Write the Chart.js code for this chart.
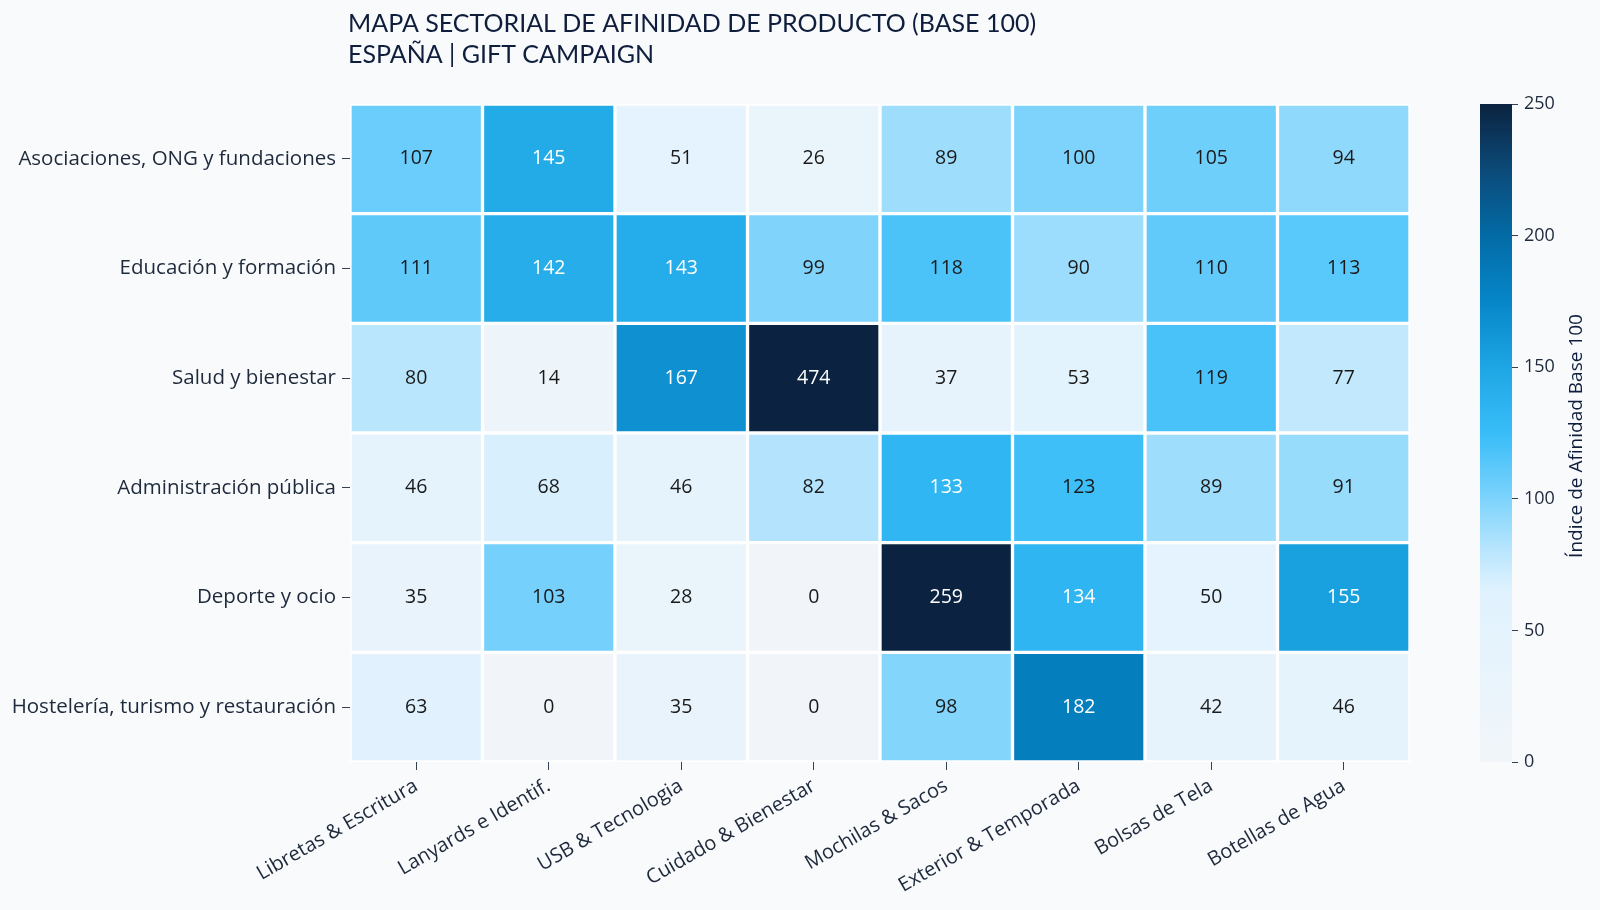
<!DOCTYPE html>
<html><head><meta charset="utf-8">
<script src="https://cdn.jsdelivr.net/npm/chart.js@4.4.1/dist/chart.umd.min.js"></script>
<style>
html,body{margin:0;padding:0;background:#f8fafc;}
#wrap{position:relative;width:1600px;height:910px;background:#f8fafc;}
#main{position:absolute;left:0;top:0;width:1600px;height:910px;}
#cbar{position:absolute;left:1420px;top:0;width:180px;height:910px;}
</style></head><body>
<div id="wrap"><div id="main"><canvas id="c1"></canvas></div><div id="cbar"><canvas id="c2"></canvas></div></div>
<script>
// ---- data ----
const sectors = ["Asociaciones, ONG y fundaciones","Educación y formación","Salud y bienestar","Administración pública","Deporte y ocio","Hostelería, turismo y restauración"];
const products = ["Libretas & Escritura","Lanyards e Identif.","USB & Tecnologia","Cuidado & Bienestar","Mochilas & Sacos","Exterior & Temporada","Bolsas de Tela","Botellas de Agua"];
const asociaciones = [107,145,51,26,89,100,105,94];
const educacion    = [111,142,143,99,118,90,110,113];
const salud        = [80,14,167,474,37,53,119,77];
const administracion = [46,68,46,82,133,123,89,91];
const deporte      = [35,103,28,0,259,134,50,155];
const hosteleria   = [63,0,35,0,98,182,42,46];
const rows = [asociaciones, educacion, salud, administracion, deporte, hosteleria];
const cbarTicks = [0,50,100,150,200,250];
const titleLines = ["MAPA SECTORIAL DE AFINIDAD DE PRODUCTO (BASE 100)","ESPAÑA | GIFT CAMPAIGN"];
const cbarTitle = "Índice de Afinidad Base 100";

// ---- style ----
const FONT = "'Open Sans', Lato, sans-serif";
const TFONT = "Lato, 'Open Sans', sans-serif";
const TXT = "#1e293b";
const VMIN = 0, VMAX = 250;
const cmapPos = [0, 0.26, 0.32, 0.40, 0.50, 0.60, 0.70, 0.80, 0.90, 1.0];
const cmapCol = ["#f1f5f9","#e0f2fe","#bae6fd","#7dd3fc","#38bdf8","#1ea6e4","#0686c8","#036ba6","#0b4a78","#0b2340"];

function hex2rgb(h){return [parseInt(h.slice(1,3),16),parseInt(h.slice(3,5),16),parseInt(h.slice(5,7),16)];}
function cmap(v){
  let t = (Math.min(VMAX,Math.max(VMIN,v))-VMIN)/(VMAX-VMIN);
  for(let i=1;i<cmapPos.length;i++){
    if(t<=cmapPos[i]){
      const f=(t-cmapPos[i-1])/(cmapPos[i]-cmapPos[i-1]);
      const a=hex2rgb(cmapCol[i-1]), b=hex2rgb(cmapCol[i]);
      const c=a.map((x,k)=>Math.round(x+(b[k]-x)*f));
      return `rgb(${c[0]},${c[1]},${c[2]})`;
    }
  }
  return cmapCol[cmapCol.length-1];
}

const nR = rows.length;
const datasets = rows.map((vals,r)=>({
  label: sectors[r],
  data: vals.map(()=>[nR-1-r, nR-r]),
  values: vals,
  backgroundColor: vals.map(cmap),
  borderColor: "#ffffff",
  borderWidth: 2,
  borderSkipped: false,
  barPercentage: 1,
  categoryPercentage: 1,
  grouped: false
}));

const valueLabels = {
  id:'valueLabels',
  afterDatasetsDraw(chart){
    const ctx = chart.ctx;
    ctx.save();
    ctx.font = `19.5px ${FONT}`;
    ctx.textAlign='center'; ctx.textBaseline='middle';
    chart.data.datasets.forEach((ds,i)=>{
      chart.getDatasetMeta(i).data.forEach((el,j)=>{
        const v = ds.values[j];
        const p = el.getProps(['x','y','base'],true);
        ctx.fillStyle = v > 125 ? "#ffffff" : "#1a1a1a";
        ctx.fillText(String(v), p.x, (p.y+p.base)/2);
      });
    });
    ctx.restore();
  }
};
const titlePlugin = {
  id:'titleText',
  afterDraw(chart){
    const ctx=chart.ctx; ctx.save();
    ctx.font = `25px ${TFONT}`; ctx.fillStyle="#0f1e3c";
    ctx.textAlign='left'; ctx.textBaseline='middle';
    ctx.fillText(titleLines[0], chart.chartArea.left-2, 24);
    ctx.fillText(titleLines[1], chart.chartArea.left-2, 55);
    ctx.restore();
  }
};

new Chart(document.getElementById('c1'), {
  type:'bar',
  data:{labels: products, datasets},
  plugins:[valueLabels, titlePlugin],
  options:{
    responsive:true, maintainAspectRatio:false, animation:false, events:[],
    layout:{padding:{left:0,right:190,top:104,bottom:0}},
    plugins:{legend:{display:false}, tooltip:{enabled:false}, title:{display:false}},
    scales:{
      x:{type:'category', offset:true,
         grid:{drawOnChartArea:false, drawTicks:true, tickLength:8, offset:false, color:'#334155', tickColor:'#334155'},
         border:{display:false},
         ticks:{maxRotation:30, minRotation:30, autoSkip:false, font:{family:FONT,size:20}, color:TXT, padding:4},
         afterFit(s){s.height=148;}},
      y:{type:'linear', min:0, max:nR, display:false},
      yl:{type:'category', labels:sectors, position:'left', offset:true,
         grid:{drawOnChartArea:false, drawTicks:true, tickLength:8, offset:false, color:'#334155', tickColor:'#334155'},
         border:{display:false},
         ticks:{font:{family:FONT,size:20.5}, color:TXT, padding:6},
         afterFit(s){s.width=350;}}
    }
  }
});

const cbarTitlePlugin = {
  id:'cbarTitle',
  afterDraw(chart){
    const ctx=chart.ctx, ca=chart.chartArea; ctx.save();
    ctx.font=`19px ${FONT}`; ctx.fillStyle="#0f1e3c";
    ctx.translate(157,(ca.top+ca.bottom)/2+3); ctx.rotate(-Math.PI/2);
    ctx.textAlign='center'; ctx.textBaseline='middle';
    ctx.fillText(cbarTitle,0,0); ctx.restore();
  }
};
new Chart(document.getElementById('c2'), {
  type:'bar',
  data:{labels:[''], datasets:[{
    data:[[VMIN,VMAX]],
    backgroundColor(c){
      const ca=c.chart.chartArea; if(!ca) return cmapCol[4];
      const g=c.chart.ctx.createLinearGradient(0,ca.bottom,0,ca.top);
      cmapPos.forEach((p,i)=>g.addColorStop(p,cmapCol[i]));
      return g;
    },
    borderWidth:0, barPercentage:1, categoryPercentage:1
  }]},
  plugins:[cbarTitlePlugin],
  options:{
    responsive:true, maintainAspectRatio:false, animation:false, events:[],
    layout:{padding:{left:60,right:0,top:104,bottom:148}},
    plugins:{legend:{display:false}, tooltip:{enabled:false}},
    scales:{
      x:{display:false},
      y:{position:'right', min:VMIN, max:VMAX,
         afterBuildTicks(s){s.ticks=cbarTicks.map(v=>({value:v}));},
         grid:{drawOnChartArea:false, drawTicks:true, tickLength:6, color:'#334155', tickColor:'#334155'},
         border:{display:false},
         ticks:{font:{family:FONT,size:18}, color:TXT, padding:6},
         afterFit(s){s.width=88;}}
    }
  }
});
</script>
</body></html>
